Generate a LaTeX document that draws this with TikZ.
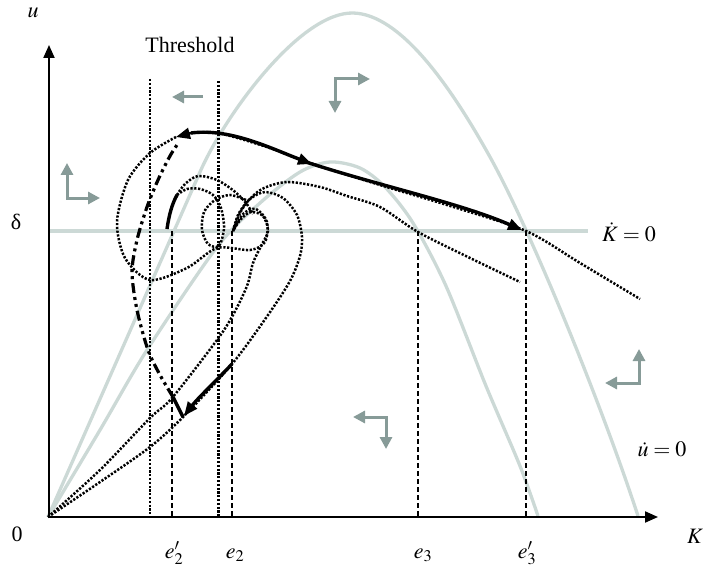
\documentclass[tikz,border=0pt]{standalone}
\usepackage{mathptmx}
\usepackage{fontspec}
\setmainfont{Liberation Serif}
\usetikzlibrary{arrows.meta}
\definecolor{nullgray}{RGB}{204,217,214}
\definecolor{arrowgray}{RGB}{135,155,152}
\tikzset{
  nullcline/.style={draw=nullgray, line width=3.3pt},
  dotline/.style={line width=2.5pt, dash pattern=on 2.2pt off 1.6pt},
  dashline/.style={line width=2pt, dash pattern=on 5pt off 3pt},
  heavy/.style={line width=3.4pt},
  dashdotdot/.style={line width=3.2pt, dash pattern=on 10pt off 4pt on 3pt off 4pt on 3pt off 4pt},
  flowarrow/.style={draw=arrowgray, line width=3pt, arrows={-Triangle[length=12pt,width=12pt]}},
  flowpair/.style={draw=arrowgray, line width=3pt, arrows={Triangle[length=12pt,width=12pt]-Triangle[length=12pt,width=12pt]}},
  bigtip/.style={-{Triangle[length=14pt,width=11pt]}},
  axistip/.style={line width=2pt, -{Triangle[length=13pt,width=11pt]}},
  lab/.style={font=\fontsize{22}{26}\selectfont, inner sep=0pt, anchor=base}
}
\begin{document}
\begin{tikzpicture}[x=1pt,y=-1pt]
    \useasboundingbox (0,0) rectangle (706,572);
    %equilibria on the Kdot line
    \coordinate (O) at (48,517);
    \coordinate (e2p) at (172,231);
    \coordinate (e2) at (232,231);
    \coordinate (e3) at (418,231);
    \coordinate (e3p) at (526,231);

    %nullclines (grey)
    \draw[nullcline] (49,231) -- (588,231);
    \draw[nullcline] (48,517) -- (200,172) .. controls (225,115) and (300,12) .. (353,13)
        .. controls (400,14) and (450,85) .. (490,157) .. controls (530,229) and (600,400) .. (638,516);
    \draw[nullcline] plot[smooth] coordinates {(48,517) (100,430) (147,350) (217,247) (260,203) (300,172) (330,162) (360,168) (385,187) (413,223) (446,286) (486,386) (520,466) (538,516)};

    %thresholds
    \draw[dotline] (150,79) -- (150,517);
    \draw[dotline, line width=3pt] (218,81) -- (218,517);

    %equilibria (dashed)
    \foreach \p in {e2p,e2,e3,e3p}
        \draw[dashline] (\p) -- (\p |- O);

    %trajectories (dotted)
    \draw[dotline] plot[smooth] coordinates {(48,517) (100,482) (150,447) (183,417) (232,364) (268,315) (290,281) (300,256) (302,237) (297,215) (283,198) (265,192) (250,199) (240,213) (233,231)};
    \draw[dotline] plot[smooth] coordinates {(48,517) (100,470) (150,418) (172,398) (217,340) (233,315) (247,286) (253,263) (261,246) (268,231) (263,216) (251,212) (241,219) (233,231)};
    \draw[dotline] plot[smooth] coordinates {(176,137) (150,153) (128,180) (117,222) (125,258) (150,280) (187,268) (217,248) (250,250) (265,242) (267,222) (256,209) (243,214) (233,231)};
    \draw[dotline] plot[smooth] coordinates {(177,195) (185,184) (198,176) (217,180) (234,191) (246,203) (253,214)};
    \draw[dotline] plot[smooth] coordinates {(177,195) (187,189) (200,189) (213,195) (221,208) (224,228) (219,246) (208,244) (202,230) (204,212) (215,200) (230,195) (246,200)};
    \draw[dotline] plot[smooth] coordinates {(233,231) (238,215) (247,202) (262,189) (287,182) (320,187) (347,196) (380,207) (418,232) (470,258) (520,282)};
    \draw[dotline] plot[smooth] coordinates {(191,133) (218,133) (267,147) (307,162) (380,185) (447,205) (526,231) (580,263) (640,299)};
    \draw[dotline, bigtip] (191,133) -- (176,137);

    %paths (heavy)
    \draw[heavy] (167,229) .. controls (169,215) and (172,204) .. (177,195);
    \draw[heavy, bigtip] (191,133) .. controls (230,128) and (270,148) .. (312,164);
    \draw[heavy, bigtip] (306,162) .. controls (380,186) and (460,203) .. (522,230);
    \draw[dashdotdot] plot[smooth] coordinates {(173,397) (160,375) (148,350) (137,310) (132,272) (137,240) (147,207) (158,180) (170,156) (179,142)};
    \draw[heavy] (173,397) -- (183,417);
    \draw[heavy, bigtip] (232,364) .. controls (215,382) and (198,398) .. (184,416);

    %axis
    \draw[axistip] (O) -- (658,517);
    \draw[axistip] (49,517) -- (49,45);

    %flow directions
    \draw[flowpair] (67,163) -- (67,198) -- (100,198);
    \draw[flowpair] (335,113) -- (335,79) -- (370,79);
    \draw[flowarrow] (203,97) -- (172,97);
    \draw[flowpair] (639,349) -- (639,383) -- (605,383);
    \draw[flowpair] (353,417) -- (386,417) -- (386,449);

    %labels
    \node[lab] (thr) at (190,53) {Threshold};
    \node[lab] (ulab) at (33,18) {$u$};
    \node[lab] (dlab) at (16,229) {δ};
    \node[lab] (zlab) at (17,541) {0};
    \node[lab] (Klab) at (695,543) {$K$};
    \node[lab] (Kdotlab) at (629,241) {$\dot{K} = 0$};
    \node[lab] (udotlab) at (662,456) {$\dot{u} = 0$};
    \node[lab] (e2plab) at (174,558) {$e_2'$};
    \node[lab] (e2lab) at (235,558) {$e_2$};
    \node[lab] (e3lab) at (423,558) {$e_3$};
    \node[lab] (e3plab) at (527,558) {$e_3'$};
\end{tikzpicture}
\end{document}
